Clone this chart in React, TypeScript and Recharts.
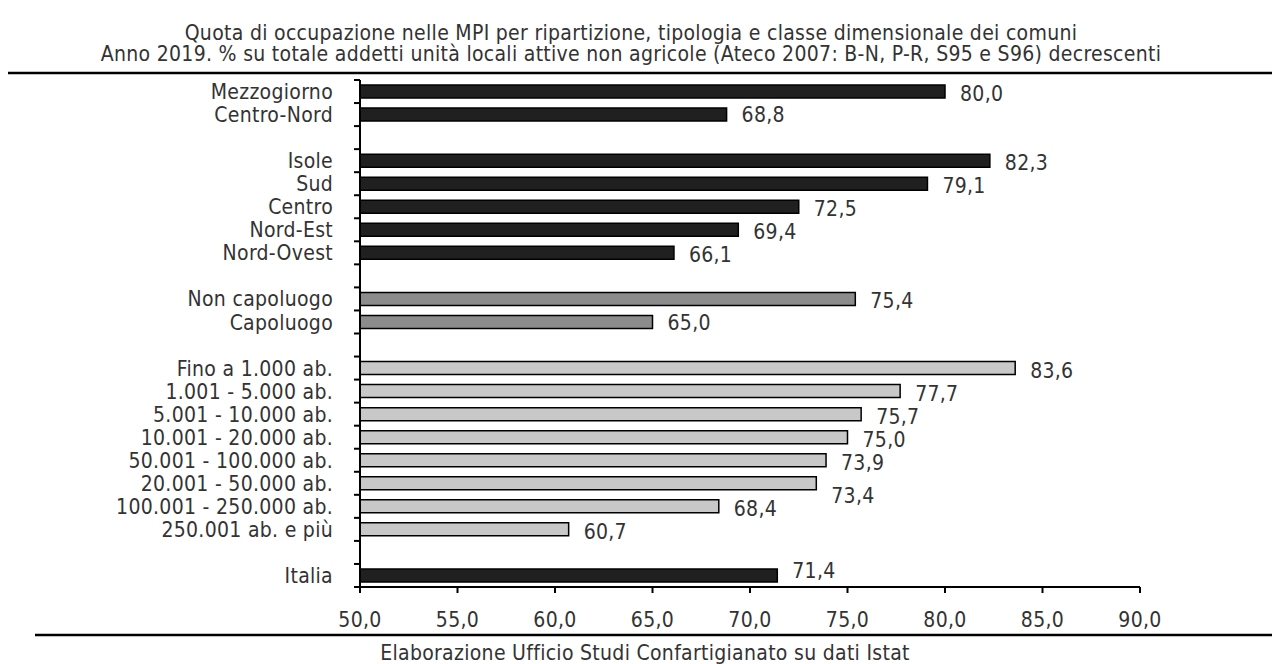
import React from "react";
import { BarChart, Bar, XAxis, YAxis, Cell, LabelList } from "recharts";

const categories = [
  "Mezzogiorno", "Centro-Nord", "",
  "Isole", "Sud", "Centro", "Nord-Est", "Nord-Ovest", "",
  "Non capoluogo", "Capoluogo", "",
  "Fino a 1.000 ab.", "1.001 - 5.000 ab.", "5.001 - 10.000 ab.", "10.001 - 20.000 ab.",
  "50.001 - 100.000 ab.", "20.001 - 50.000 ab.", "100.001 - 250.000 ab.", "250.001 ab. e più", "",
  "Italia",
];
const values: (number | null)[] = [
  80.0, 68.8, null,
  82.3, 79.1, 72.5, 69.4, 66.1, null,
  75.4, 65.0, null,
  83.6, 77.7, 75.7, 75.0, 73.9, 73.4, 68.4, 60.7, null,
  71.4,
];
const groups = [
  "dark", "dark", "",
  "dark", "dark", "dark", "dark", "dark", "",
  "mid", "mid", "",
  "light", "light", "light", "light", "light", "light", "light", "light", "",
  "dark",
];
const xTicks = [50, 55, 60, 65, 70, 75, 80, 85, 90];
const titleLines = [
  "Quota di occupazione nelle MPI per ripartizione, tipologia e classe dimensionale dei comuni",
  "Anno 2019. % su totale addetti unità locali attive non agricole (Ateco 2007: B-N, P-R, S95 e S96) decrescenti",
];
const footer = "Elaborazione Ufficio Studi Confartigianato su dati Istat";

const FILL: Record<string, string> = { dark: "#202020", mid: "#8c8c8c", light: "#c8c8c8" };
const LABEL_DY: Record<string, number> = { "20.001 - 50.000 ab.": 12, Italia: -5, "Centro-Nord": 0, Capoluogo: 0 };

const FONT = "'DejaVu Sans Condensed', 'Liberation Sans Narrow', sans-serif";
const FS = 21;
const LS = 0.3;
const TXT = "#333";

const W = 1272;
const H = 664;
const PLOT_LEFT = 360;
const PLOT_RIGHT = 1140;
const PLOT_TOP = 80;
const PLOT_BOTTOM = 587;
const X_AXIS_H = 30;
const BAND = (PLOT_BOTTOM - PLOT_TOP) / categories.length;

const data = categories.map((c, i) => ({
  key: c === "" ? " ".repeat(i + 1) : c,
  value: values[i],
  group: groups[i],
}));
const keys = data.map((d) => d.key);

const fmt = (v: number) => v.toFixed(1).replace(".", ",");

const CatTick = (props: any) => {
  const { x, y, payload, index } = props;
  const label = String(payload.value).trim();
  const half = BAND / 2;
  const last = index === categories.length - 1;
  return (
    <g>
      <line x1={PLOT_LEFT - 6} x2={PLOT_LEFT} y1={y - half} y2={y - half} stroke="#000" strokeWidth={2} />
      {last && <line x1={PLOT_LEFT - 6} x2={PLOT_LEFT} y1={y + half} y2={y + half} stroke="#000" strokeWidth={2} />}
      <text x={x - 27} y={y} dy="0.36em" textAnchor="end" fontFamily={FONT} fontSize={FS} letterSpacing={LS} fill={TXT}>
        {label}
      </text>
    </g>
  );
};

const ValueLabel = (props: any) => {
  const { x, y, width, height, value } = props;
  const i = keys.indexOf(String(value));
  if (i < 0) return null;
  const v = values[i];
  if (v == null) return null;
  const dy = LABEL_DY[categories[i]] ?? 2;
  return (
    <text x={x + width + 15} y={y + height / 2 + dy} dy="0.36em" textAnchor="start" fontFamily={FONT} fontSize={FS} letterSpacing={LS} fill={TXT}>
      {fmt(v)}
    </text>
  );
};

export default function App() {
  return (
    <div style={{ position: "absolute", left: 0, top: 0, width: W, height: H, background: "#fff" }}>
      <BarChart
        width={W}
        height={H}
        data={data}
        layout="vertical"
        margin={{ top: PLOT_TOP, right: W - PLOT_RIGHT, bottom: H - PLOT_BOTTOM - X_AXIS_H, left: PLOT_LEFT - 1 }}
        barCategoryGap={0}
      >
        <YAxis
          type="category"
          dataKey="key"
          width={1}
          tickSize={0}
          tickMargin={0}
          interval={0}
          axisLine={{ stroke: "#000", strokeWidth: 2 }}
          tickLine={false}
          tick={<CatTick />}
        />
        <XAxis
          type="number"
          domain={[50, 90]}
          ticks={xTicks}
          interval={0}
          allowDataOverflow
          height={X_AXIS_H}
          tickSize={6}
          tickMargin={19}
          tickFormatter={fmt}
          axisLine={{ stroke: "#000", strokeWidth: 2 }}
          tickLine={{ stroke: "#000", strokeWidth: 2 }}
          tick={{ fontFamily: FONT, fontSize: FS, letterSpacing: LS, fill: TXT }}
        />
        <Bar dataKey="value" barSize={13} stroke="#000" strokeWidth={1.5} isAnimationActive={false}>
          {data.map((d, i) => (
            <Cell key={i} fill={FILL[d.group] || "#fff"} />
          ))}
          <LabelList dataKey="key" content={<ValueLabel />} />
        </Bar>
      </BarChart>
      <svg width={W} height={H} style={{ position: "absolute", left: 0, top: 0, pointerEvents: "none" }}>
        {titleLines.map((t, i) => (
          <text key={i} x={631} y={32 + i * 21.5} dy="0.36em" textAnchor="middle" fontFamily={FONT} fontSize={FS} letterSpacing={LS} fill={TXT}>
            {t}
          </text>
        ))}
        <line x1={8} x2={W} y1={73} y2={73} stroke="#000" strokeWidth={2.5} />
        <line x1={35} x2={W} y1={635} y2={635} stroke="#000" strokeWidth={2.5} />
        <text x={645} y={652} dy="0.36em" textAnchor="middle" fontFamily={FONT} fontSize={FS} letterSpacing={LS} fill={TXT}>
          {footer}
        </text>
      </svg>
    </div>
  );
}
